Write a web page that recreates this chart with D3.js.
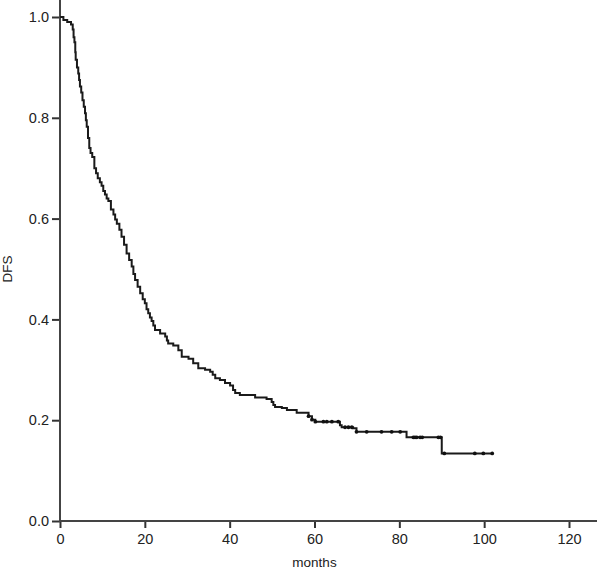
<!DOCTYPE html>
<html>
<head>
<meta charset="utf-8">
<script src="https://cdn.jsdelivr.net/npm/d3@7"></script>
<style>
  body { margin: 0; background: #fff; }
  svg { display: block; }
  text { font-family: Arial, "Liberation Sans", sans-serif; fill: #222; }
</style>
</head>
<body>
<div id="viz-container"></div>
<script>
// Kaplan-Meier estimate (months, DFS)
let months = [0, 0.8, 1.7, 2.6, 3.0, 3.2, 3.4, 3.6, 3.7, 4.0, 4.3, 4.5, 4.7, 5.0, 5.3, 5.6, 5.9, 6.1, 6.3, 6.6,
  6.9, 7.2, 7.6, 8.1, 8.5, 8.9, 9.4, 9.8, 10.2, 10.6, 11.0, 11.4, 12.0, 12.6, 13.0, 13.4, 14.0, 14.5, 15.1, 15.7,
  16.3, 16.9, 17.3, 17.7, 18.3, 18.9, 19.5, 20.0, 20.4, 20.8, 21.2, 21.6, 22.0, 22.4, 23.6, 24.8, 25.2, 25.5, 26.7, 27.9,
  28.7, 30.3, 31.4, 32.6, 34.2, 35.4, 36.0, 36.6, 37.7, 38.9, 40.1, 40.8, 41.3, 42.4, 46.0, 48.7, 49.9, 50.3, 50.7, 52.3,
  53.5, 55.8, 58.6, 59.4, 60.2, 66.0, 66.4, 69.1, 69.9, 81.7, 90.0, 102.1];
let dfs = [1.0, 0.994, 0.990, 0.985, 0.975, 0.96, 0.95, 0.93, 0.915, 0.90, 0.888, 0.875, 0.862, 0.85, 0.835, 0.822, 0.809, 0.795, 0.782, 0.76,
  0.74, 0.73, 0.722, 0.70, 0.69, 0.68, 0.672, 0.665, 0.655, 0.648, 0.64, 0.635, 0.618, 0.608, 0.598, 0.59, 0.578, 0.564, 0.548, 0.531,
  0.518, 0.505, 0.49, 0.478, 0.465, 0.452, 0.44, 0.432, 0.42, 0.412, 0.404, 0.397, 0.388, 0.379, 0.372, 0.366, 0.358, 0.352, 0.348, 0.339,
  0.326, 0.322, 0.313, 0.303, 0.300, 0.296, 0.29, 0.283, 0.280, 0.274, 0.269, 0.26, 0.254, 0.250, 0.245, 0.242, 0.236, 0.23, 0.226, 0.224,
  0.220, 0.215, 0.208, 0.201, 0.197, 0.190, 0.186, 0.184, 0.177, 0.166, 0.134, 0.134];

// censored observations (months)
let censored = [58.6, 59.4, 60.2, 62.1, 62.9, 64.1, 65.6, 67.2, 68.0, 68.8, 69.9, 72.3, 75.8, 78.2, 80.2,
  83.3, 83.7, 84.1, 84.9, 85.4, 89.2, 89.7, 90.6, 97.8, 99.8, 101.9];

let xTicks = [0, 20, 40, 60, 80, 100, 120];
let yTicks = [0.0, 0.2, 0.4, 0.6, 0.8, 1.0];

let width = 600, height = 571;

let viz = d3.select("#viz-container")
  .append("svg")
    .attr("width", width)
    .attr("height", height)
;

let x = d3.scaleLinear().domain([0, 126.6]).range([60, 597]);
let y = d3.scaleLinear().domain([0, 1]).range([521, 17]);

let points = months.map((m, i) => ({m: m, s: dfs[i]}));

// survival at a given time (for placing censor marks)
function survAt(t){
  let s = dfs[0];
  for (let i = 0; i < months.length; i++){
    if (months[i] <= t) s = dfs[i];
  }
  return s;
}

// axes
let xAxis = viz.append("g")
  .attr("transform", "translate(0," + y(0) + ")")
  .call(d3.axisBottom(x).tickValues(xTicks).tickFormat(d3.format("d")).tickSize(7).tickSizeOuter(0).tickPadding(6));
let yAxis = viz.append("g")
  .attr("transform", "translate(" + x(0) + ",0)")
  .call(d3.axisLeft(y).tickValues(yTicks).tickFormat(d3.format(".1f")).tickSize(8).tickSizeOuter(0).tickPadding(3));

viz.selectAll(".domain").remove();
viz.selectAll(".tick line").attr("stroke", "#333").attr("stroke-width", 2);
viz.selectAll(".tick text").attr("font-size", 14.5).attr("fill", "#222");

viz.append("line")
  .attr("x1", x(0)).attr("x2", x(0))
  .attr("y1", y(0) + 1).attr("y2", y(1.034))
  .attr("stroke", "#444").attr("stroke-width", 2);
viz.append("line")
  .attr("x1", x(0) - 1).attr("x2", x(126.6))
  .attr("y1", y(0)).attr("y2", y(0))
  .attr("stroke", "#444").attr("stroke-width", 2);

// axis titles
viz.append("text")
  .text("months")
  .attr("x", x(60))
  .attr("y", 567)
  .attr("text-anchor", "middle")
  .attr("font-size", 13.5);
viz.append("text")
  .text("DFS")
  .attr("transform", "translate(12," + y(0.5) + ") rotate(-90)")
  .attr("text-anchor", "middle")
  .attr("font-size", 13.5);

// survival curve
let line = d3.line()
  .x(d => x(d.m))
  .y(d => y(d.s))
  .curve(d3.curveStepAfter);

viz.append("path")
  .datum(points)
  .attr("d", line)
  .attr("fill", "none")
  .attr("stroke", "#1a1a1a")
  .attr("stroke-width", 2);

viz.selectAll(".censor").data(censored).enter()
  .append("circle")
    .attr("class", "censor")
    .attr("cx", d => x(d))
    .attr("cy", d => y(survAt(d)))
    .attr("r", 1.9)
    .attr("fill", "#111");
</script>
</body>
</html>
